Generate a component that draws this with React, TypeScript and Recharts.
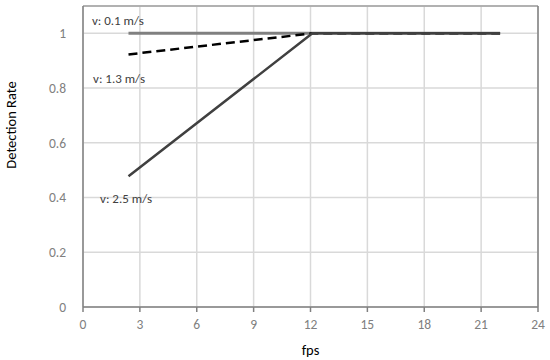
import {
  LineChart,
  Line,
  XAxis,
  YAxis,
  CartesianGrid,
  ReferenceLine,
  ReferenceDot,
} from "recharts";

const fps = [2.4, 12.1, 22];
const v01 = [1, 1, 1];
const v13 = [0.923, 1, 1];
const v25 = [0.478, 1, 1];

const xTicks = [0, 3, 6, 9, 12, 15, 18, 21, 24];
const yTicks = [0, 0.2, 0.4, 0.6, 0.8, 1];

const seriesLabels = [
  { text: "v: 0.1 m/s", x: 0.47, y: 1.047 },
  { text: "v: 1.3 m/s", x: 0.53, y: 0.836 },
  { text: "v: 2.5 m/s", x: 0.9, y: 0.398 },
];

const font = "Carlito, Calibri, Lato, sans-serif";

const App = () => {
  const data = fps.map((f, i) => ({
    fps: f,
    v01: v01[i],
    v13: v13[i],
    v25: v25[i],
  }));

  return (
    <div style={{ position: "absolute", left: 0, top: 0, fontFamily: font }}>
      <LineChart
        width={550}
        height={360}
        data={data}
        margin={{ top: 6, right: 12, bottom: 0, left: 0 }}
      >
        <CartesianGrid stroke="#d9d9d9" strokeWidth={1.5} />
        <XAxis
          dataKey="fps"
          type="number"
          domain={[0, 24]}
          ticks={xTicks}
          height={53}
          stroke="#808080"
          strokeWidth={1.5}
          tickSize={5}
          tickMargin={7}
          tick={{ fill: "#808080", fontSize: 13.5, fontFamily: font }}
          label={{
            value: "fps",
            position: "insideBottom",
            offset: 5,
            fill: "#000",
            fontSize: 14.5,
            fontFamily: font,
          }}
        />
        <YAxis
          type="number"
          domain={[0, 1.1]}
          ticks={yTicks}
          width={83}
          stroke="#808080"
          strokeWidth={1.5}
          tickLine={false}
          tickMargin={11}
          tick={{ fill: "#808080", fontSize: 13.5, fontFamily: font }}
          label={{
            content: () => (
              <text
                x={16}
                y={125}
                transform="rotate(-90 16 125)"
                textAnchor="middle"
                fill="#000"
                fontSize={14.5}
                fontFamily={font}
              >
                Detection Rate
              </text>
            ),
          }}
        />
        <ReferenceLine y={1.1} stroke="#a0a0a0" strokeWidth={1.5} />
        <ReferenceLine x={24} stroke="#808080" strokeWidth={1.5} />
        <Line
          dataKey="v01"
          stroke="#808080"
          strokeWidth={3}
          dot={false}
          isAnimationActive={false}
        />
        <Line
          dataKey="v13"
          stroke="#000"
          strokeWidth={2.5}
          strokeDasharray="9 5"
          dot={false}
          isAnimationActive={false}
        />
        <Line
          dataKey="v25"
          stroke="#404040"
          strokeWidth={2.5}
          dot={false}
          isAnimationActive={false}
        />
        {seriesLabels.map((l) => (
          <ReferenceDot
            key={l.text}
            x={l.x}
            y={l.y}
            r={0}
            stroke="none"
            label={{
              value: l.text,
              position: "right",
              offset: 0,
              fill: "#404040",
              fontSize: 13,
              fontFamily: font,
            }}
          />
        ))}
      </LineChart>
    </div>
  );
};

export default App;
